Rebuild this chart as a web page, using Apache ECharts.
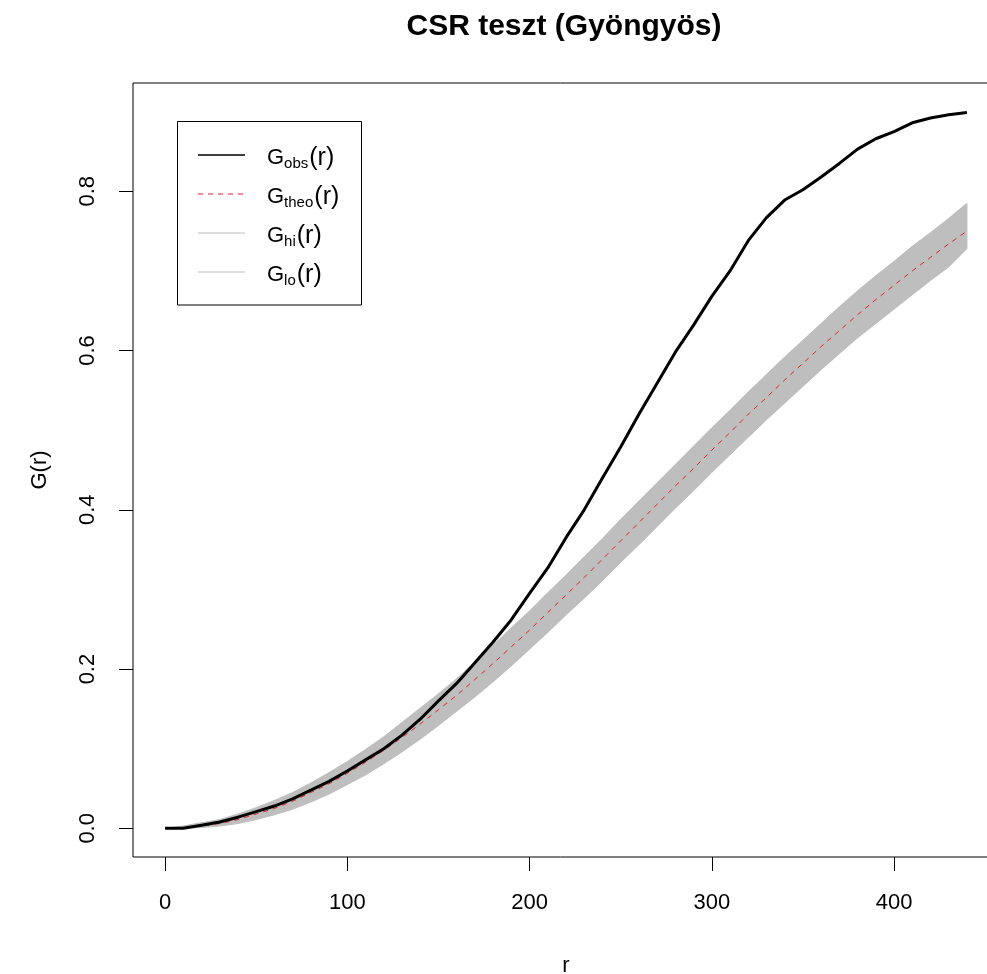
<!DOCTYPE html>
<html>
<head>
<meta charset="utf-8">
<script src="https://cdn.jsdelivr.net/npm/echarts@6/dist/echarts.min.js"></script>
<style>
  html, body { margin: 0; padding: 0; background: #fff; }
  #chart { width: 987px; height: 974px; }
</style>
</head>
<body>
<div id="chart"></div>
<script>
// Distance values r
const rVals = [0, 10, 20, 30, 40, 50, 60, 70, 80, 90, 100, 110, 120, 130, 140, 150, 160, 170, 180, 190,
  200, 210, 220, 230, 240, 250, 260, 270, 280, 290, 300, 310, 320, 330, 340, 350, 360, 370, 380, 390,
  400, 410, 420, 430, 440];

// Observed G(r)
const gObs = [0, 0, 0.004, 0.008, 0.014, 0.021, 0.028, 0.037, 0.048, 0.059, 0.072, 0.086, 0.100, 0.117, 0.137,
  0.160, 0.182, 0.208, 0.234, 0.262, 0.295, 0.327, 0.365, 0.400, 0.440, 0.479, 0.520, 0.559, 0.598, 0.632,
  0.668, 0.700, 0.738, 0.767, 0.789, 0.802, 0.818, 0.835, 0.853, 0.866, 0.875, 0.886, 0.892, 0.896, 0.899];

// Theoretical G(r) under CSR
const gTheo = [0, 0.001, 0.003, 0.006, 0.011, 0.018, 0.025, 0.034, 0.045, 0.056, 0.069, 0.083, 0.098, 0.114, 0.131,
  0.149, 0.167, 0.187, 0.207, 0.228, 0.249, 0.271, 0.293, 0.315, 0.338, 0.361, 0.384, 0.407, 0.430, 0.452,
  0.475, 0.497, 0.520, 0.541, 0.563, 0.584, 0.605, 0.625, 0.645, 0.664, 0.682, 0.700, 0.717, 0.734, 0.750];

// Upper simulation envelope
const gHi = [0, 0.003, 0.007, 0.011, 0.018, 0.026, 0.035, 0.045, 0.057, 0.070, 0.084, 0.099, 0.115, 0.133, 0.151,
  0.169, 0.188, 0.209, 0.230, 0.252, 0.273, 0.296, 0.318, 0.341, 0.364, 0.388, 0.411, 0.434, 0.457, 0.480,
  0.503, 0.525, 0.548, 0.570, 0.592, 0.613, 0.634, 0.655, 0.675, 0.694, 0.712, 0.731, 0.748, 0.766, 0.785];

// Lower simulation envelope
const gLo = [0, 0, 0.001, 0.003, 0.006, 0.011, 0.017, 0.024, 0.033, 0.043, 0.055, 0.067, 0.081, 0.096, 0.112,
  0.129, 0.147, 0.165, 0.184, 0.204, 0.225, 0.246, 0.268, 0.289, 0.311, 0.334, 0.356, 0.379, 0.402, 0.424,
  0.447, 0.469, 0.491, 0.513, 0.534, 0.555, 0.576, 0.596, 0.616, 0.634, 0.652, 0.670, 0.688, 0.705, 0.728];

// Axis ticks
const xTicks = [0, 100, 200, 300, 400];
const yTicks = [0, 0.2, 0.4, 0.6, 0.8];
const yTickLabels = ['0.0', '0.2', '0.4', '0.6', '0.8'];

const FONT = '"Liberation Sans", Arial, sans-serif';
const chart = echarts.init(document.getElementById('chart'), null, { renderer: 'canvas' });

const pairs = (ys) => rVals.map((x, i) => [x, ys[i]]);

// legend rows: subscript label and line style
const legendRows = [
  { sub: 'obs', color: '#000000', type: 'solid', width: 1.5 },
  { sub: 'theo', color: '#e8202a', type: [5, 5], width: 1 },
  { sub: 'hi', color: '#bebebe', type: 'solid', width: 1 },
  { sub: 'lo', color: '#bebebe', type: 'solid', width: 1 }
];

const graphics = [
  {
    type: 'text',
    x: 564, y: 12,
    style: {
      text: 'CSR teszt (Gyöngyös)',
      align: 'center', verticalAlign: 'top',
      fontFamily: FONT, fontWeight: 'bold', fontSize: 30, fill: '#000'
    }
  },
  {
    type: 'rect',
    shape: { x: 177.5, y: 121.5, width: 184, height: 183.5 },
    style: { fill: '#fff', stroke: '#000', lineWidth: 1 }
  }
];
legendRows.forEach((row, i) => {
  const y = 155 + i * 39;
  graphics.push({
    type: 'line',
    shape: { x1: 198, y1: y, x2: 245, y2: y },
    style: { stroke: row.color, lineWidth: row.width, lineDash: row.type === 'solid' ? null : row.type }
  });
  graphics.push({
    type: 'text',
    x: 267, y: y + 3,
    style: {
      text: '{g|G}{s|' + row.sub + '}{p|(r)}',
      verticalAlign: 'middle',
      rich: {
        g: { fontFamily: FONT, fontSize: 22, fill: '#000', lineHeight: 28 },
        s: { fontFamily: FONT, fontSize: 15, fill: '#000', lineHeight: 28, padding: [12, 1, 0, 0] },
        p: { fontFamily: FONT, fontSize: 25, fill: '#000', lineHeight: 28 }
      }
    }
  });
});

const option = {
  animation: false,
  backgroundColor: '#fff',
  grid: {
    left: 133, top: 83, width: 866, height: 774,
    outerBoundsMode: 'none',
    show: true, borderColor: '#000', borderWidth: 1, backgroundColor: 'transparent'
  },
  xAxis: {
    type: 'value',
    min: -17.6, max: 457.6,
    name: 'r',
    nameLocation: 'middle',
    nameGap: 98,
    nameTextStyle: { fontFamily: FONT, fontSize: 22, color: '#000' },
    axisLine: { show: false, onZero: false },
    axisTick: { show: true, length: 14, lineStyle: { color: '#000', width: 1 }, customValues: xTicks },
    axisLabel: { customValues: xTicks, margin: 35, fontFamily: FONT, fontSize: 22, color: '#000' },
    splitLine: { show: false }
  },
  yAxis: {
    type: 'value',
    min: -0.036, max: 0.936,
    name: 'G(r)',
    nameLocation: 'middle',
    nameRotate: 90,
    nameGap: 82,
    nameTextStyle: { fontFamily: FONT, fontSize: 22, color: '#000' },
    axisLine: { show: false, onZero: false },
    axisTick: { show: true, length: 14, lineStyle: { color: '#000', width: 1 }, customValues: yTicks },
    axisLabel: {
      customValues: yTicks, rotate: 90, margin: 34,
      fontFamily: FONT, fontSize: 22, color: '#000',
      formatter: (v) => yTickLabels[yTicks.findIndex(t => Math.abs(t - v) < 1e-9)]
    },
    splitLine: { show: false }
  },
  graphic: graphics,
  series: [
    {
      name: 'envelope',
      type: 'custom',
      coordinateSystem: 'cartesian2d',
      silent: true,
      data: [[0, 0]],
      renderItem: function (params, api) {
        const upper = rVals.map((x, i) => api.coord([x, gHi[i]]));
        const lower = rVals.map((x, i) => api.coord([x, gLo[i]])).reverse();
        return {
          type: 'polygon',
          shape: { points: upper.concat(lower) },
          style: { fill: '#bebebe', stroke: '#bebebe', lineWidth: 1 }
        };
      },
      z: 1
    },
    {
      name: 'theo',
      type: 'line',
      data: pairs(gTheo),
      showSymbol: false,
      symbol: 'none',
      lineStyle: { color: '#e8202a', width: 1, type: [5, 5] },
      z: 2
    },
    {
      name: 'obs',
      type: 'line',
      data: pairs(gObs),
      showSymbol: false,
      symbol: 'none',
      lineStyle: { color: '#000', width: 3 },
      z: 3
    }
  ]
};

chart.setOption(option);
</script>
</body>
</html>
